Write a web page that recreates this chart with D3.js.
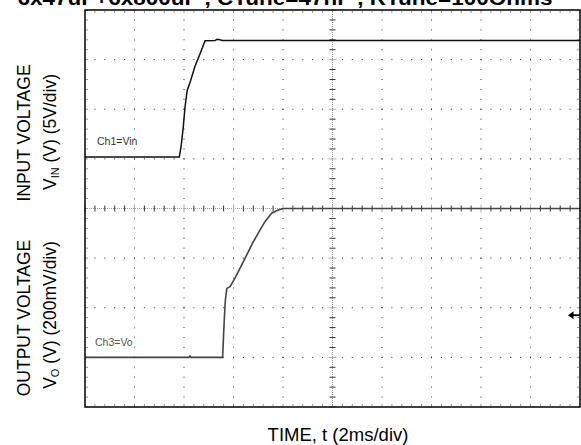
<!DOCTYPE html>
<html><head><meta charset="utf-8">
<script src="https://cdn.jsdelivr.net/npm/d3@7"></script>
<style>html,body{margin:0;padding:0;background:#fff;}svg{display:block;font-family:Arial,"Liberation Sans",sans-serif;}</style>
</head><body>
<script>
// ---- data ----
const titleText = "6x47uF+6x800uF , CTune=47nF , RTune=100Ohms";
// Ch1: input voltage (time ms, volts), 5 V/div, ground at +1 div
const vinTime = [0, 3.81, 3.88, 3.97, 4.04, 4.13, 4.27, 4.44, 4.65, 4.85, 5.25, 5.33, 5.45, 5.54, 20];
const vinVolt = [0.2, 0.2, 1.2, 3.2, 5.2, 6.9, 7.9, 9.3, 10.6, 11.9, 11.92, 12.05, 12.0, 11.92, 11.92];
// Ch3: output voltage (time ms, volts), 200 mV/div, ground at -3 div
const voutTime = [0, 4.2, 4.24, 4.28, 5.56, 5.62, 5.67, 5.73, 5.86, 6.06, 6.26, 6.53, 6.80, 7.07, 7.27, 7.54, 7.81, 8.01, 20];
const voutVolt = [0, 0, 0.006, 0, 0, 0.137, 0.231, 0.278, 0.285, 0.319, 0.359, 0.412, 0.466, 0.513, 0.547, 0.581, 0.594, 0.6, 0.6];
const ch1Scale = 5, ch1Offset = 1;     // V/div, div
const ch3Scale = 0.2, ch3Offset = -3;  // V/div, div
const xLabel = "TIME, t (2ms/div)";

const W = 581, H = 445;
const L = 85, R = 580, T = 10, B = 407;
const svg = d3.select("body").append("svg").attr("width", W).attr("height", H);
svg.append("rect").attr("width", W).attr("height", H).attr("fill", "#fff");

const x = d3.scaleLinear().domain([0, 20]).range([L, R]);
const y = d3.scaleLinear().domain([-4, 4]).range([B, T]);
const divX = (R - L) / 10, divY = (B - T) / 8;

// grid
const g = svg.append("g");
const xMajor = d3.range(2, 20, 2);
const yMajor = d3.range(-3, 4, 1).filter(d => d !== 0);
xMajor.filter(d => d !== 10).forEach(d => {
  const odd = (d / 2) % 2 === 1;
  g.append("line").attr("x1", x(d)).attr("x2", x(d)).attr("y1", T).attr("y2", B)
    .attr("stroke", odd ? "#999" : "#222").attr("stroke-width", 1)
    .attr("stroke-dasharray", odd ? "2," + (divY / 5 - 2) : "1," + (divY / 5 - 1))
    .attr("stroke-dashoffset", odd ? 1 : 0.5);
});
yMajor.forEach(d => {
  g.append("line").attr("x1", L).attr("x2", R).attr("y1", y(d)).attr("y2", y(d))
    .attr("stroke", "#222").attr("stroke-width", 1)
    .attr("stroke-dasharray", "1," + (divX / 5 - 1)).attr("stroke-dashoffset", 0.5);
});
// border inner minor dots
[[L, T + 2, R, T + 2, divX], [L, B - 2, R, B - 2, divX]].forEach(a => {
  g.append("line").attr("x1", a[0]).attr("y1", a[1]).attr("x2", a[2]).attr("y2", a[3])
    .attr("stroke", "#222").attr("stroke-dasharray", "1," + (a[4] / 5 - 1)).attr("stroke-dashoffset", 0.5);
});
[[L + 2, T, L + 2, B], [R - 2, T, R - 2, B]].forEach(a => {
  g.append("line").attr("x1", a[0]).attr("y1", a[1]).attr("x2", a[2]).attr("y2", a[3])
    .attr("stroke", "#222").attr("stroke-dasharray", "1," + (divY / 5 - 1)).attr("stroke-dashoffset", 0.5);
});
// center axes
g.append("line").attr("x1", L).attr("x2", R).attr("y1", y(0)).attr("y2", y(0))
  .attr("stroke", "#999").attr("stroke-width", 1).attr("stroke-dasharray", "1,1");
g.append("line").attr("x1", x(10)).attr("x2", x(10)).attr("y1", T).attr("y2", B)
  .attr("stroke", "#999").attr("stroke-width", 1).attr("stroke-dasharray", "1,1");
d3.range(0, 20.01, 0.4).forEach(t => {
  const major = Math.abs(t / 2 - Math.round(t / 2)) < 1e-6;
  g.append("line").attr("x1", x(t)).attr("x2", x(t))
    .attr("y1", y(0) - (major ? 4 : 3)).attr("y2", y(0) + (major ? 4 : 3))
    .attr("stroke", major ? "#aaa" : "#333").attr("stroke-width", 1);
});
d3.range(-4, 4.01, 0.2).forEach(v => {
  const major = Math.abs(v - Math.round(v)) < 1e-6;
  g.append("line").attr("y1", y(v)).attr("y2", y(v))
    .attr("x1", x(10) - (major ? 4 : 3)).attr("x2", x(10) + (major ? 4 : 3))
    .attr("stroke", major ? "#aaa" : "#333").attr("stroke-width", 1);
});

// traces
const vinPts = vinTime.map((t, i) => [t, ch1Offset + vinVolt[i] / ch1Scale]);
const voutPts = voutTime.map((t, i) => [t, ch3Offset + voutVolt[i] / ch3Scale]);
const line = d3.line().x(d => x(d[0])).y(d => y(d[1]));
svg.append("path").attr("d", line(voutPts)).attr("fill", "none")
  .attr("stroke", "#444").attr("stroke-width", 1.6);
svg.append("path").attr("d", line(vinPts)).attr("fill", "none")
  .attr("stroke", "#111").attr("stroke-width", 1.5);

// frame
svg.append("rect").attr("x", L).attr("y", T).attr("width", R - L).attr("height", B - T)
  .attr("fill", "none").attr("stroke", "#000").attr("stroke-width", 1.5);

// marker arrow at right
const ay = y(-2.15);
svg.append("line").attr("x1", R - 9).attr("x2", R).attr("y1", ay).attr("y2", ay).attr("stroke", "#000").attr("stroke-width", 1.8);
svg.append("path").attr("d", `M${R - 12},${ay} L${R - 6.5},${ay - 4} L${R - 6.5},${ay + 4} Z`).attr("fill", "#000");

// channel labels
svg.append("text").attr("x", 97).attr("y", 145).attr("font-size", 10.5).attr("fill", "#333").text("Ch1=Vin");
svg.append("text").attr("x", 95).attr("y", 346).attr("font-size", 10.5).attr("fill", "#555").text("Ch3=Vo");

// title
svg.append("text").attr("x", 285).attr("y", 5).attr("text-anchor", "middle")
  .attr("font-size", 21).attr("font-weight", "bold").attr("fill", "#000")
  .attr("textLength", 535).attr("lengthAdjust", "spacingAndGlyphs").text(titleText);

// axis labels
function rotLabel(cx, cy, parts) {
  const t = svg.append("text").attr("transform", `translate(${cx},${cy}) rotate(-90)`)
    .attr("text-anchor", "middle").attr("font-size", 17.5).attr("fill", "#000");
  parts.forEach(p => {
    const s = t.append("tspan").text(p[0]);
    if (p[1]) s.attr("font-size", 11).attr("dy", 3);
    if (p[2]) s.attr("dy", -3);
  });
}
rotLabel(30, 133, [["INPUT VOLTAGE"]]);
rotLabel(56, 132, [["V"], ["IN", true], [" (V) (5V/div)", false, true]]);
rotLabel(30, 318, [["OUTPUT VOLTAGE"]]);
rotLabel(56, 315, [["V"], ["O", true], [" (V) (200mV/div)", false, true]]);

svg.append("text").attr("x", 338).attr("y", 441).attr("text-anchor", "middle")
  .attr("font-size", 18.5).attr("fill", "#000").text(xLabel);
</script>
</body></html>
